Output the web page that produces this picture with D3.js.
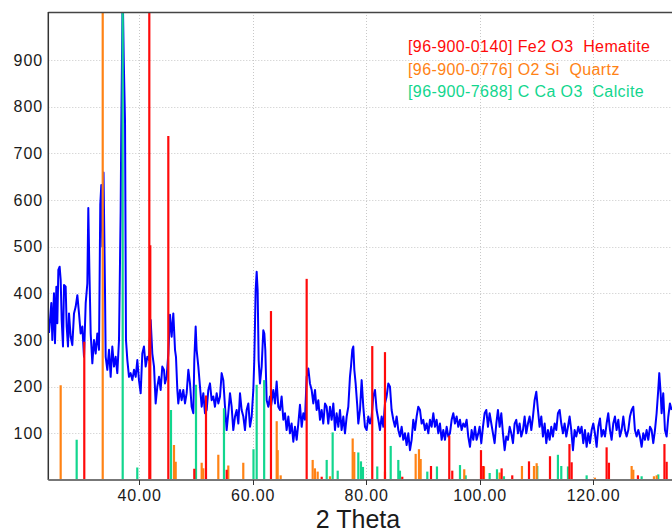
<!DOCTYPE html>
<html>
<head>
<meta charset="utf-8">
<script src="https://cdn.jsdelivr.net/npm/d3@7"></script>
<style>
  body { margin: 0; background: #fff; }
  svg { display: block; font-family: "Liberation Sans", Arial, sans-serif; }
</style>
</head>
<body>
<svg id="chart" width="672" height="532"></svg>
<script>
// measured pattern (2 theta, counts)
var twoTheta = [24.12,24.53,24.71,25.00,25.18,25.42,25.59,25.77,26.00,26.18,26.36,26.59,26.77,27.06,27.24,27.47,27.65,27.94,28.23,28.53,28.82,29.12,29.41,29.70,30.00,30.29,30.59,30.88,31.05,31.23,31.47,31.76,32.05,32.35,32.64,32.93,33.16,33.34,33.52,33.73,33.99,34.11,34.40,34.70,34.99,35.28,35.58,35.87,36.16,36.46,36.75,36.86,37.11,37.29,37.52,37.69,37.93,38.22,38.51,38.81,39.10,39.40,39.69,39.98,40.28,40.57,40.86,41.16,41.45,41.74,42.04,42.33,42.63,42.92,43.21,43.51,43.80,44.09,44.39,44.56,44.86,45.15,45.45,45.74,46.03,46.33,46.50,46.74,46.91,47.21,47.50,47.79,48.09,48.38,48.68,48.97,49.26,49.56,49.73,49.97,50.14,50.44,50.73,51.03,51.32,51.61,51.91,52.20,52.49,52.79,53.08,53.37,53.67,53.96,54.26,54.55,54.84,55.14,55.43,55.72,56.02,56.31,56.60,56.90,57.19,57.49,57.78,58.07,58.37,58.66,58.95,59.25,59.54,59.84,60.13,60.30,60.54,60.72,60.89,61.07,61.30,61.60,61.89,62.07,62.24,62.48,62.77,63.07,63.24,63.65,63.95,64.24,64.53,64.83,65.12,65.42,65.71,66.00,66.30,66.59,66.88,67.18,67.47,67.77,68.06,68.35,68.65,68.94,69.23,69.53,69.82,70.11,70.41,70.70,71.00,71.29,71.58,71.88,72.17,72.46,72.76,73.05,73.34,73.64,73.93,74.23,74.52,74.81,75.11,75.40,75.69,75.99,76.28,76.58,76.87,77.16,77.34,77.57,77.75,77.93,78.16,78.46,78.63,78.93,79.22,79.51,79.81,80.10,80.39,80.69,80.98,81.27,81.57,81.86,82.16,82.45,82.74,83.04,83.33,83.62,83.92,84.21,84.50,84.80,85.09,85.39,85.68,85.97,86.27,86.56,86.85,87.15,87.44,87.74,88.03,88.32,88.62,88.91,89.20,89.50,89.79,90.08,90.38,90.67,90.97,91.26,91.55,91.85,92.14,92.43,92.73,93.02,93.32,93.61,93.90,94.20,94.49,94.78,95.08,95.37,95.66,95.96,96.25,96.55,96.84,97.13,97.43,97.72,98.01,98.31,98.60,98.89,99.19,99.48,99.78,100.01,100.30,100.60,100.89,101.19,101.48,101.77,102.07,102.36,102.65,102.95,103.24,103.54,103.83,104.12,104.42,104.71,105.00,105.30,105.59,105.89,106.18,106.47,106.77,107.06,107.35,107.65,107.94,108.23,108.53,108.82,109.12,109.41,109.70,110.00,110.29,110.58,110.88,111.17,111.47,111.76,112.05,112.35,112.64,112.93,113.23,113.52,113.81,114.11,114.40,114.70,114.99,115.28,115.58,115.87,116.16,116.46,116.75,117.04,117.40,117.69,117.98,118.28,118.57,118.87,119.16,119.45,119.75,120.04,120.33,120.63,120.92,121.22,121.51,121.80,122.10,122.39,122.68,122.98,123.27,123.56,123.86,124.15,124.45,124.74,125.03,125.33,125.62,125.91,126.21,126.50,126.80,127.09,127.38,127.68,127.97,128.26,128.56,128.85,129.14,129.44,129.73,130.03,130.32,130.61,130.91,131.20,131.49,131.67,131.91,132.08,132.37,132.67,132.96,133.26,133.55,133.84];
var counts = [315,379,300,400,293,414,336,450,457,429,343,286,418,414,329,286,357,307,289,357,371,396,357,314,329,264,379,421,583,457,314,250,300,271,314,279,590,632,500,659,407,264,236,279,221,286,243,264,229,300,575,750,1050,904,768,300,257,221,229,214,236,221,257,214,186,271,286,243,264,257,343,271,243,164,200,221,193,243,236,207,221,271,354,307,357,279,264,193,164,193,171,193,164,186,236,207,157,143,257,329,279,243,200,157,186,143,150,193,207,171,179,157,186,164,179,229,214,157,107,143,186,157,107,136,150,121,186,150,136,107,150,164,114,136,193,257,407,446,407,257,207,243,321,314,279,171,157,179,157,193,164,211,157,150,179,129,143,107,136,100,121,82,114,86,121,161,114,143,129,221,239,207,193,164,193,150,171,129,150,121,164,157,121,157,129,164,107,143,114,150,107,136,100,136,157,221,243,279,286,236,207,157,121,150,214,157,114,107,136,121,136,179,193,150,129,107,136,114,164,179,207,200,150,129,114,136,107,93,114,86,100,75,100,64,86,129,107,136,157,150,121,129,107,121,100,129,114,143,114,129,100,121,86,107,86,114,93,100,129,143,121,136,114,129,107,121,114,129,93,71,107,86,114,86,100,114,79,114,143,150,114,143,121,100,79,121,150,114,143,100,64,93,86,114,100,79,121,129,100,121,93,107,136,100,121,136,107,136,171,189,150,114,136,93,121,79,107,86,114,93,121,107,143,150,121,100,121,93,114,136,107,64,107,93,114,100,114,79,107,71,100,79,107,121,100,71,114,132,93,107,93,121,143,107,86,121,136,107,129,93,107,136,107,93,107,136,150,157,107,93,107,93,71,100,86,107,86,114,107,79,107,143,193,229,186,143,186,107,93,136,164,150];

// reference patterns: stick positions and heights
var hemPos = [30.34,41.80,41.97,45.15,49.73,51.79,55.44,63.24,69.53,72.18,81.09,83.33,86.38,91.44,94.66,95.19,100.25,100.65,103.89,105.76,108.71,112.41,115.84,116.23,122.39,122.80,127.91,132.58,132.97];
var hemInt = [296,1050,503,737,24,181,22,362,431,7,287,274,7,30,95,20,64,30,25,10,40,51,77,38,70,37,10,77,39];
var qtzPos = [26.18,33.59,46.15,46.45,51.03,51.31,53.96,55.72,58.36,64.25,64.42,64.95,70.59,70.99,71.47,73.64,77.64,77.92,83.33,88.74,89.32,89.62,97.30,100.78,103.54,107.47,109.59,110.06,120.33,126.80,127.09,130.73,131.21];
var qtzInt = [203,1050,75,39,37,25,54,31,37,126,64,10,43,25,18,8,89,60,18,56,66,45,23,29,16,30,30,36,5,30,22,8,10];
var calPos = [29.00,37.11,39.68,45.62,50.03,54.96,60.16,60.72,62.04,73.06,74.11,75.00,78.63,79.10,79.45,81.97,84.34,85.68,85.97,90.79,92.49,96.55,97.55,101.78,103.07,104.30,110.17,113.81,114.40,115.58,118.87,128.56,131.49];
var calInt = [86,1050,27,150,204,154,66,204,214,43,102,20,59,40,28,29,73,43,20,18,29,32,10,15,23,8,30,54,30,29,10,8,12];

var xTicks = [40, 60, 80, 100, 120];
var yTicks = [100, 200, 300, 400, 500, 600, 700, 800, 900];
var legend = [
    { text: "[96-900-0140] Fe2 O3  Hematite", color: "#ff0a0a" },
    { text: "[96-900-0776] O2 Si  Quartz", color: "#ff8214" },
    { text: "[96-900-7688] C Ca O3  Calcite", color: "#12d68e" }
];

var pL = 48.3, pR = 672.5, pT = 12, pB = 480;

var x = d3.scaleLinear().domain([24, 134]).range([pL, pR]);
var y = d3.scaleLinear().domain([0, 1000]).range([pB, 13.3]);

var svg = d3.select("#chart");

svg.append("defs").append("clipPath").attr("id", "plot")
    .append("rect").attr("x", pL).attr("y", pT)
    .attr("width", pR - pL).attr("height", pB - pT);

// grid
var grid = svg.append("g")
    .attr("stroke", "#c8c8c8")
    .attr("stroke-width", 1)
    .attr("stroke-dasharray", "1,2");

grid.selectAll(".gy").data(yTicks).join("line")
    .attr("x1", pL).attr("x2", pR)
    .attr("y1", d => Math.round(y(d)) + 0.5).attr("y2", d => Math.round(y(d)) + 0.5);

grid.selectAll(".gx").data(xTicks).join("line")
    .attr("y1", pT).attr("y2", pB)
    .attr("x1", d => Math.round(x(d)) + 0.5).attr("x2", d => Math.round(x(d)) + 0.5);

var plot = svg.append("g").attr("clip-path", "url(#plot)");

var pts = twoTheta.map((t, i) => [t, counts[i]]);

plot.append("path")
    .datum(pts)
    .attr("fill", "none")
    .attr("stroke", "#0000ff")
    .attr("stroke-width", 2)
    .attr("stroke-linejoin", "round")
    .attr("d", d3.line().x(d => x(d[0])).y(d => y(d[1])));

function sticks(pos, ints, color) {
    plot.append("g")
        .attr("stroke", color)
        .attr("stroke-width", 2.2)
        .selectAll("line")
        .data(pos.map((p, i) => [p, ints[i]]))
        .join("line")
        .attr("x1", d => x(d[0])).attr("x2", d => x(d[0]))
        .attr("y1", y(0)).attr("y2", d => y(d[1]));
}

sticks(calPos, calInt, legend[2].color);
sticks(qtzPos, qtzInt, legend[1].color);
sticks(hemPos, hemInt, legend[0].color);

// frame
svg.append("line")
    .attr("x1", pL).attr("x2", pR).attr("y1", pT + 0.5).attr("y2", pT + 0.5)
    .attr("stroke", "#444").attr("stroke-width", 1.3);
svg.append("line")
    .attr("x1", pL).attr("x2", pL).attr("y1", pT).attr("y2", pB)
    .attr("stroke", "#333").attr("stroke-width", 1.5);
svg.append("line")
    .attr("x1", pL).attr("x2", pR).attr("y1", pB).attr("y2", pB)
    .attr("stroke", "#777").attr("stroke-width", 2);

// x ticks
svg.append("g").selectAll("line").data(xTicks).join("line")
    .attr("x1", d => Math.round(x(d)) + 0.5).attr("x2", d => Math.round(x(d)) + 0.5)
    .attr("y1", pB).attr("y2", pB + 5)
    .attr("stroke", "#333").attr("stroke-width", 1);

svg.append("g").selectAll("text").data(xTicks).join("text")
    .attr("x", d => x(d) + 0.5)
    .attr("y", 501)
    .attr("text-anchor", "middle")
    .attr("fill", "#1a1a1a")
    .style("font-size", "16px")
    .style("letter-spacing", "0.8px")
    .text(d => d.toFixed(2));

svg.append("g").selectAll("text").data(yTicks).join("text")
    .attr("x", 43)
    .attr("y", d => y(d) + 5.6)
    .attr("text-anchor", "end")
    .attr("fill", "#1a1a1a")
    .style("font-size", "16px")
    .style("letter-spacing", "0.9px")
    .text(d => d);

svg.append("text")
    .attr("x", 358)
    .attr("y", 528)
    .attr("text-anchor", "middle")
    .attr("fill", "#1a1a1a")
    .style("font-size", "25px")
    .text("2 Theta");

// legend
svg.append("g").selectAll("text").data(legend).join("text")
    .attr("x", 408)
    .attr("y", (d, i) => [51.7, 75, 97.3][i])
    .attr("fill", d => d.color)
    .style("font-size", "16px")
    .style("letter-spacing", "0.4px")
    .style("white-space", "pre")
    .text(d => d.text);
</script>
</body>
</html>
